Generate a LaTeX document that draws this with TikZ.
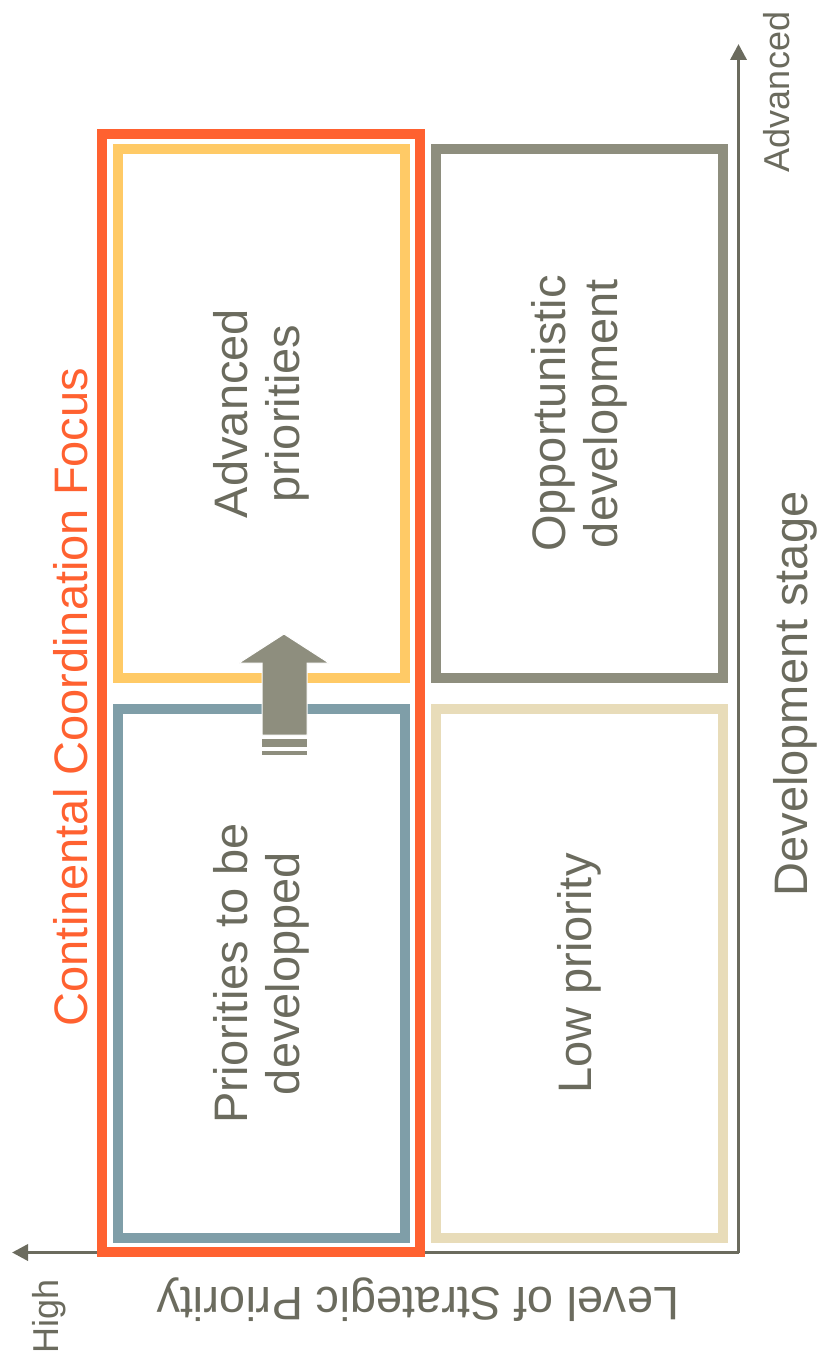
\documentclass[tikz,border=0pt]{standalone}
\usepackage{fontspec}
\setmainfont{Liberation Sans}
\usetikzlibrary{positioning, arrows.meta}

\definecolor{focuscol}{HTML}{FF6130}
\definecolor{advcol}{HTML}{FFCA66}
\definecolor{devcol}{HTML}{7F9EA8}
\definecolor{oppcol}{HTML}{8E8E7E}
\definecolor{lowcol}{HTML}{E8DCB9}
\definecolor{axiscol}{HTML}{6B6B5E}

\tikzset{
    quad/.style={draw, line width=10pt, rectangle, rotate=90, align=center, minimum width=529pt, minimum height=287pt, text=axiscol, font=\fontsize{47}{52}\selectfont},
    axisline/.style={axiscol, line width=3.5pt, -{Triangle[length=16pt, width=16pt]}},
    axislabel/.style={text=axiscol, inner sep=0pt, anchor=base, font=\fontsize{36}{40}\selectfont}
}

\begin{document}
\begin{tikzpicture}[x=1pt, y=-1pt]
    \useasboundingbox (0, 0) rectangle (817, 1364);

    % axes
    \coordinate (origin) at (738.5, 1252.5);
    \coordinate (stageend) at (738.5, 44);
    \coordinate (prioend) at (12, 1252.5);
    \draw [axisline] (origin) -- (stageend);
    \draw [axisline] (origin) -- (prioend);

    % quadrants
    \node (adv) [quad, draw=advcol] at (261.5, 413.5) {Advanced\\priorities};
    \node (opp) [quad, draw=oppcol] at (579.5, 413.5) {Opportunistic\\development};
    \node (dev) [quad, draw=devcol] at (261.5, 973.5) {Priorities to be\\developped};
    \node (low) [quad, draw=lowcol] at (579.5, 973.5) {Low priority};

    \node (focus) [draw=focuscol, line width=10pt, rectangle, minimum width=318pt, minimum height=1118pt] at (261, 693) {};
    \node (focuslabel) [rotate=90, anchor=base, inner sep=0pt, text=focuscol, font=\fontsize{47}{52}\selectfont] at (87, 697) {Continental Coordination Focus};

    % move up
    \fill [oppcol, draw=white, line width=1pt] (284, 634) -- (329, 663) -- (307, 663) -- (307, 735) -- (262, 735) -- (262, 663) -- (239, 663) -- cycle;
    \fill [oppcol] (262, 739) rectangle (307, 747);
    \fill [oppcol] (262, 751) rectangle (307, 755);

    % axis labels
    \node (stage) [axislabel, rotate=90, font=\fontsize{47}{52}\selectfont] at (807, 694) {Development stage};
    \node (advanced) [axislabel, rotate=90] at (789, 92) {Advanced};
    \node (level) [axislabel, rotate=180, font=\fontsize{47}{52}\selectfont] at (418, 1287) {Level of Strategic Priority};
    \node (high) [axislabel, rotate=90] at (58, 1316) {High};
\end{tikzpicture}
\end{document}
